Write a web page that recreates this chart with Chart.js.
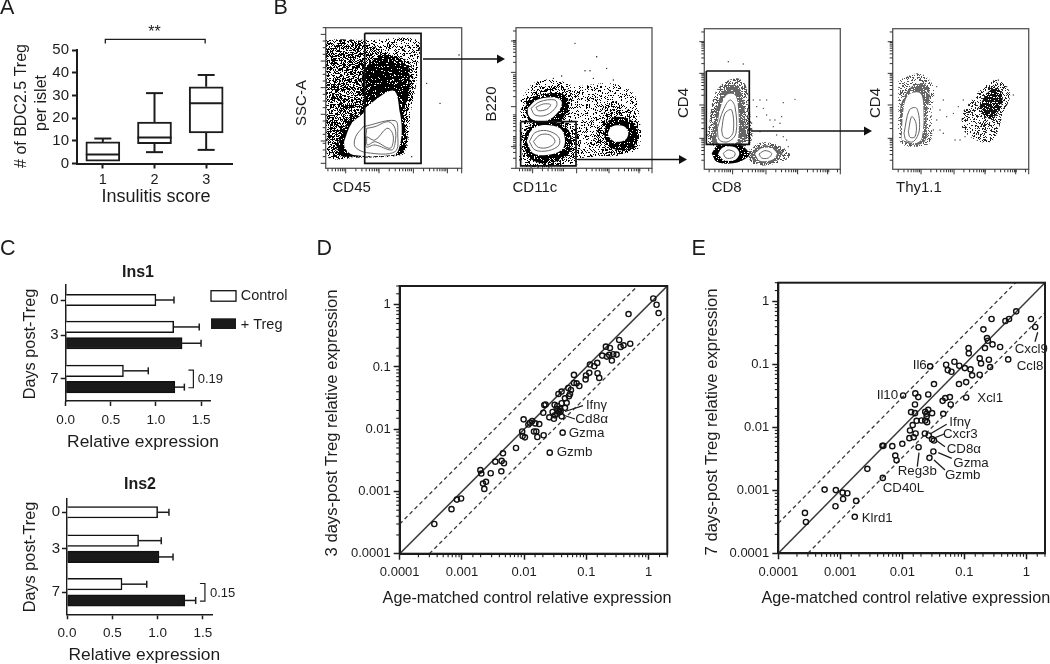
<!DOCTYPE html>
<html><head><meta charset="utf-8">
<style>html,body{margin:0;background:#fff;overflow:hidden}#p{position:relative;width:1050px;height:664px}canvas{position:absolute;left:0;top:0}</style>
<script src="https://cdn.jsdelivr.net/npm/chart.js@4"></script>
</head><body><div id="p"></div>
<script>
// ---------- Panel A ----------
const scoreLabels=['1','2','3'];
const boxMin=[1,5,6], boxQ1=[1,8.7,13.5], boxMedian=[4,11.5,26.5], boxQ3=[9.5,18.3,33.8], boxMax=[11,31,39];
// ---------- Panel C ----------
const dayLabels=['0','3','7'];
const ins1Slots=[0,4,9], ins2Slots=[0,4.15,9.1];
const ins1Control=[1.0,1.197,0.64], ins1ControlHi=[1.2,1.48,0.915];
const ins1Treg=[null,1.29,1.21], ins1TregHi=[null,1.5,1.315];
const ins2Control=[1.0,0.79,0.607], ins2ControlHi=[1.125,1.04,0.88];
const ins2Treg=[null,1.015,1.30], ins2TregHi=[null,1.17,1.42];
// ---------- Panel D ----------
const dX=[0.00036,0.00068,0.00083,0.00097,0.00198,0.00205,0.00218,0.00244,0.00229,0.0029,0.00344,0.0043,0.00435,0.00474,0.00457,0.0074,0.0098,0.0093,0.00946,0.0103,0.0117,0.0124,0.0135,0.0151,0.0175,0.0144,0.0157,0.0163,0.0206,0.0203,0.0211,0.0221,0.0254,0.0301,0.0309,0.0287,0.0341,0.0333,0.0367,0.0377,0.0341,0.0313,0.0354,0.0386,0.0401,0.0482,0.0453,0.0401,0.0416,0.0258,0.0356,0.04,0.0453,0.0525,0.0545,0.0565,0.0513,0.0632,0.0698,0.0771,0.0632,0.0972,0.0986,0.1114,0.1143,0.134,0.1496,0.1514,0.1611,0.18,0.206,0.2138,0.2393,0.2335,0.2704,0.3062,0.257,0.3373,0.3548,0.3963,0.507,0.4764,1.19,1.345,1.449];
const dY=[0.0003,0.00052,0.00074,0.00077,0.0022,0.00194,0.00134,0.00143,0.0011,0.00196,0.00301,0.00211,0.0031,0.00284,0.0041,0.00499,0.0144,0.0092,0.00777,0.0074,0.0119,0.0127,0.0135,0.0124,0.0121,0.0092,0.0092,0.0075,0.008,0.0184,0.0244,0.025,0.0155,0.0147,0.0247,0.0189,0.0236,0.0213,0.0188,0.0213,0.0177,0.0167,0.02,0.0195,0.0262,0.0265,0.0221,0.0161,0.0088,0.0042,0.0369,0.0402,0.0314,0.0339,0.0369,0.0427,0.046,0.0554,0.0546,0.0495,0.0746,0.0631,0.0731,0.0804,0.1094,0.1028,0.1162,0.0794,0.0668,0.1524,0.2123,0.1469,0.2023,0.1563,0.16,0.158,0.1268,0.2716,0.21,0.2225,0.2365,0.708,1.26,1.0,0.735];
// ---------- Panel E ----------
const eX=[0.000269,0.000279,0.000558,0.000847,0.000836,0.00109,0.00111,0.0013,0.0018,0.00171,0.00273,0.00484,0.00478,0.00495,0.00689,0.0077,0.00807,0.01,0.0183,0.013,0.01524,0.0133,0.01637,0.0147,0.017,0.0204,0.0234,0.0251,0.0231,0.0267,0.0302,0.0324,0.0317,0.0274,0.01384,0.016,0.016,0.0162,0.0181,0.0103,0.0262,0.0324,0.0262,0.0247,0.0302,0.0457,0.0447,0.0493,0.0585,0.0603,0.107,0.082,0.107,0.1336,0.177,0.1259,0.102,0.083,0.0692,0.0509,0.0541,0.062,0.0281,0.177,0.186,0.249,0.261,0.51,0.117,0.118,0.215,0.203,0.232,0.24,0.285,0.378,0.275,0.46,0.526,0.687,1.186,1.39,0.0234,0.0247];
const eY=[0.000439,0.000315,0.00103,0.00101,0.00056,0.00092,0.00073,0.0009,0.00068,0.00038,0.0022,0.00158,0.0051,0.0051,0.00505,0.00358,0.00302,0.0055,0.00486,0.00676,0.00701,0.00896,0.00803,0.0109,0.01276,0.0129,0.0129,0.01216,0.00803,0.00746,0.00652,0.00621,0.00415,0.00329,0.01754,0.0169,0.0232,0.0348,0.0304,0.0323,0.0335,0.049,0.0191,0.0165,0.0169,0.0165,0.0265,0.0293,0.0304,0.0232,0.03,0.049,0.0526,0.0673,0.0689,0.0838,0.0879,0.0957,0.1109,0.0993,0.0817,0.0769,0.0935,0.1253,0.1044,0.1194,0.0912,0.1208,0.183,0.1507,0.183,0.363,0.264,0.239,0.209,0.19,0.53,0.492,0.53,0.701,0.53,0.395,0.01775,0.015];
const logBounds=[0.0001,2];
const foldChange=3;
const logLabels=[0.0001,0.001,0.01,0.1,1];
// ---------- Panel B (channels as read, arbitrary units) ----------
const b1Sparse=[[197,118],[330,120],[472,120],[474,200],[464,280],[452,340],[447,400],[442,440],[428,464],[300,472],[200,467],[197,300]];
const b1Medium=[[197,120],[300,122],[380,160],[450,190],[458,270],[445,340],[442,420],[425,462],[230,468],[205,440],[200,300]];
const b1Dense=[[228,445],[262,370],[305,325],[310,215],[375,165],[440,195],[448,265],[432,340],[436,400],[424,458],[270,470],[238,466]];
const b1Hole=[[252,425],[275,370],[310,340],[315,325],[400,272],[420,340],[425,400],[415,450],[400,465],[280,465],[255,445]];
const b1C1=[[310,380],[405,362],[413,400],[405,455],[320,458],[285,440],[287,410]];
const b1C2=[[320,385],[345,380],[385,365],[405,385],[405,430],[395,450],[345,435],[318,440]];
const b1C3=[[320,410],[345,420],[380,385],[395,395],[400,420],[390,445],[345,425],[322,435]];
const b1Gate=[[314,100],[483,100],[483,490],[314,490],[314,100]];
const b1Dots=[[540,310],[597,165],[478,150],[500,250],[455,470]];

const b2Sparse=[[782,300],[820,250],[880,238],[950,258],[1050,250],[1120,280],[1138,350],[1138,440],[1090,465],[960,475],[950,495],[790,500],[780,420]];
const b2HaloTop=[[785,325],[820,272],[880,258],[935,280],[925,345],[880,375],[800,365]];
const b2HaloLow=[[783,420],[800,378],[930,372],[962,425],[950,470],[880,498],[800,495]];
const b2HaloRight=[[1000,420],[1025,360],[1045,305],[1078,310],[1130,365],[1134,430],[1100,458],[1030,460]];
const b2DenseTop=[[795,320],[820,290],[900,280],[925,300],[905,360],[860,372],[810,365]];
const b2DenseLow=[[790,420],[810,380],[880,368],[925,390],[935,440],[910,475],[850,490],[805,470]];
const b2DenseRight=[[1032,400],[1045,362],[1075,350],[1120,365],[1134,400],[1120,440],[1070,450],[1040,430]];
const b2HoleTop=[[803,325],[830,300],[880,292],[905,305],[895,335],[860,362],[820,360],[805,345]];
const b2HoleLow=[[800,425],[815,390],[850,375],[900,385],[915,420],[905,450],[860,465],[820,460]];
const b2HoleRight=[[1043,400],[1055,380],[1090,378],[1105,398],[1095,420],[1065,425],[1048,412]];
const b2TopC1=[[813,325],[840,305],[885,300],[890,318],[860,345],[825,345]];
const b2TopC2=[[828,322],[850,312],[872,314],[860,328],[835,332]];
const b2LowC1=[[808,425],[825,398],[860,392],[895,410],[897,435],[865,452],[825,450]];
const b2LowC2=[[820,425],[840,405],[870,405],[885,425],[865,442],[835,442]];
const b2Gate=[[782,365],[948,365],[948,498],[782,498],[782,365]];
const b2Dots=[[945,130],[1010,170],[975,212],[990,212],[1040,205],[880,235],[905,228],[1000,235],[1060,240]];

const b3Cloud=[[150,350],[163,285],[190,250],[232,235],[258,258],[270,330],[268,432],[148,432]];
const b3Ring=[[156,405],[170,320],[192,268],[230,255],[248,290],[255,350],[250,428],[160,430]];
const b3Hole=[[170,400],[180,330],[200,285],[225,285],[235,330],[235,410],[225,430],[175,430]];
const b3C1=[[172,385],[190,330],[210,300],[225,320],[228,400],[205,425],[178,420]];
const b3C2=[[185,390],[195,340],[215,330],[220,395],[205,415],[190,410]];
const b3RingLow=[[155,460],[175,435],[240,435],[265,455],[265,470],[220,490],[170,485]];
const b3HoleLow=[[175,460],[190,442],[225,442],[238,460],[225,480],[190,480]];
const b3C3=[[190,460],[205,450],[225,458],[220,472],[198,474]];
const b3CloudRight=[[262,455],[290,432],[330,428],[378,448],[390,470],[340,493],[278,492]];
const b3RingRight=[[272,462],[295,440],[335,438],[365,455],[365,472],[335,488],[285,488]];
const b3HoleRight=[[285,462],[305,445],[335,445],[350,462],[335,480],[300,482]];
const b3C4=[[297,462],[315,452],[335,460],[325,474],[305,474]];
const b3Gate=[[139,213],[268,213],[268,433],[139,433],[139,213]];
const b3Dots=[[205,185],[250,192],[300,300],[320,300],[405,298],[370,308],[345,360],[365,350],[290,320],[275,370],[300,395],[350,405],[370,410],[380,420],[320,345],[340,380],[280,300],[385,440],[360,370],[310,325],[330,360],[290,350]];

const b4Sparse=[[715,240],[780,220],[820,260],[815,340],[812,425],[770,440],[722,428],[715,330]];
const b4Cloud=[[725,425],[720,330],[732,290],[757,258],[790,250],[808,275],[800,350],[797,420],[770,435]];
const b4Hole=[[725,420],[730,330],[745,285],[780,280],[790,320],[785,415],[765,430]];
const b4C1=[[732,400],[748,330],[770,325],[778,390],[760,425],[738,420]];
const b4C2=[[745,395],[755,350],[768,370],[765,410],[750,412]];
const b4RightSparse=[[905,340],[960,270],[1010,240],[1050,280],[1030,340],[1000,420],[960,425],[910,390]];
const b4RightDense=[[955,325],[985,275],[1015,265],[1028,300],[1000,355],[975,350]];
const b4Dots=[[830,260],[850,300],[840,330],[830,360],[860,350],[820,390],[840,390],[850,400],[885,420],[895,320],[910,300],[900,420],[880,340],[1060,285],[1040,260],[1015,240],[915,410]];

const INK='#1c1c1c', FONT='"Liberation Sans", Arial, sans-serif';
const host=document.getElementById('p');
function mk(cfg){const c=document.createElement('canvas');c.width=1050;c.height=664;host.appendChild(c);
  cfg.options=Object.assign({responsive:false,animation:false,events:[]},cfg.options);
  cfg.options.plugins=Object.assign({legend:{display:false},tooltip:{enabled:false},title:{display:false}},cfg.options.plugins);
  return new Chart(c,cfg);}
function frame(L,T,R,B,w=0,h=0){return {autoPadding:false,padding:{left:L-w,top:T,right:1050-R,bottom:664-B-h}};}
function txt(g,t,x,y,size,o={}){g.save();g.fillStyle=INK;g.font=(o.w||'')+' '+size+'px '+FONT;g.textBaseline='middle';g.textAlign=o.a||'left';g.translate(x,y);if(o.r)g.rotate(-Math.PI/2);g.fillText(t,0,0);g.restore();}
function seg(g,x1,y1,x2,y2,lw,col){g.save();g.strokeStyle=col||INK;g.lineWidth=lw||1.5;g.beginPath();g.moveTo(x1,y1);g.lineTo(x2,y2);g.stroke();g.restore();}
function arrow(g,x1,x2,y){seg(g,x1,y,x2-7,y,1.6,'#111');g.save();g.fillStyle='#111';g.beginPath();g.moveTo(x2,y);g.lineTo(x2-8,y-4.5);g.lineTo(x2-8,y+4.5);g.closePath();g.fill();g.restore();}
const fitW=w=>s=>{s.width=w};
const fitH=h=>s=>{s.height=h};

// ---------- A ----------
mk({type:'bar',data:{labels:scoreLabels,datasets:[{data:boxQ1.map((q,i)=>[q,boxQ3[i]]),backgroundColor:'#fff',borderColor:INK,borderWidth:2,borderSkipped:false,barThickness:34}]},
 options:{layout:frame(77,50,232,163.5,40,26),scales:{
  x:{afterFit:fitH(26),grid:{drawOnChartArea:false,tickLength:5,tickWidth:2,tickColor:INK,offset:false},border:{color:INK,width:2},ticks:{color:INK,font:{family:FONT,size:14.5},padding:3,maxRotation:0}},
  y:{min:0,max:50,afterFit:fitW(40),grid:{drawOnChartArea:false,tickLength:5,tickWidth:2,tickColor:INK},border:{color:INK,width:2},ticks:{stepSize:10,color:INK,font:{family:FONT,size:15},padding:3}}}},
 plugins:[{id:'a',afterDatasetsDraw(ch){const g=ch.ctx,X=ch.scales.x,Y=ch.scales.y;
   scoreLabels.forEach((_,i)=>{const x=X.getPixelForValue(i),hw=17,cw=8.5;
    seg(g,x-hw,Y.getPixelForValue(boxMedian[i]),x+hw,Y.getPixelForValue(boxMedian[i]),2);
    [[boxQ3[i],boxMax[i]],[boxQ1[i],boxMin[i]]].forEach(([a,b])=>{if(a===b)return;
      seg(g,x,Y.getPixelForValue(a),x,Y.getPixelForValue(b),2);seg(g,x-cw,Y.getPixelForValue(b),x+cw,Y.getPixelForValue(b),2);});});
   const xa=X.getPixelForValue(0)+2.5,xb=X.getPixelForValue(2)-1,yt=Y.getPixelForValue(54.7),yb=Y.getPixelForValue(52.9);
   g.save();g.strokeStyle=INK;g.lineWidth=1.3;g.beginPath();g.moveTo(xa,yb);g.lineTo(xa,yt);g.lineTo(xb,yt);g.lineTo(xb,yb);g.stroke();g.restore();
   txt(g,'**',154.5,33,16,{a:'center'});
   txt(g,'# of BDC2.5 Treg',22,106,16,{a:'center',r:1});
   txt(g,'per islet',41.5,103,16,{a:'center',r:1});
   txt(g,'Insulitis score',156,197,18,{a:'center'});
   txt(g,'A',0,8.5,21.5);txt(g,'B',273.5,8.5,21.5);txt(g,'C',0,249,21.5);txt(g,'D',316.5,249,21.5);txt(g,'E',691.5,249,21.5);
 }}]});

// ---------- B ----------
function speckle(density,color){const c=document.createElement('canvas');c.width=c.height=256;const g=c.getContext('2d');g.fillStyle=color;
 for(let y=0;y<256;y++)for(let x=0;x<256;x++){let h=(Math.imul(x+1,73856093)^Math.imul(y+1,19349663))>>>0;h=Math.imul(h^(h>>>15),2246822519)>>>0;h=Math.imul(h^(h>>>13),3266489917)>>>0;h=(h^(h>>>16))>>>0;if(h%1000<density*1000)g.fillRect(x,y,1,1);}
 return g.createPattern(c,'repeat');}
const K={s:speckle(.3,'#000'),ls:speckle(.2,'#000'),lm:speckle(.42,'#000'),m:speckle(.55,'#000'),d:speckle(.9,'#000'),gs:speckle(.3,'#555'),gm:speckle(.45,'#555'),gd:speckle(.85,'#666'),ks:speckle(.3,'#222'),kd:speckle(.8,'#111')};
function shape(pts,fill,line,lw,tension){const d=pts.concat([pts[0]]).map(p=>({x:p[0],y:p[1]}));
 return {data:d,showLine:true,pointRadius:0,fill:fill?'shape':false,backgroundColor:fill||'transparent',borderColor:line||'transparent',borderWidth:lw||0,tension:tension===undefined?0.35:tension,borderJoinStyle:'miter'};}
const cont=p=>shape(p,null,'#666',1);
const gate=p=>shape(p.slice(0,4),null,'#111',1.7,0);
const dots=(p,col)=>({data:p.map(q=>({x:q[0],y:q[1]})),pointRadius:.7,pointBackgroundColor:col,pointBorderWidth:0,showLine:false});
function flow(box,sets,xM,yM,xDec,yDec,linY,extra){const [L,T,R,B,x0,x1,y0,y1]=box;
 sets.forEach((s,i)=>s.order=-i);
 mk({type:'scatter',data:{datasets:sets},options:{layout:frame(L,T,R,B),scales:{x:{type:'linear',display:false,min:x0,max:x1},y:{type:'linear',display:false,min:y0,max:y1,reverse:true}}},
 plugins:[{id:'f',afterDraw(ch){const g=ch.ctx,X=ch.scales.x,Y=ch.scales.y,A=ch.chartArea;
  g.save();g.strokeStyle='#555';g.lineWidth=1.3;g.strokeRect(A.left,A.top,A.right-A.left,A.bottom-A.top);g.restore();
  const tx=(v,l)=>{if(v<x0||v>x1)return;const p=X.getPixelForValue(v);seg(g,p,A.bottom,p,A.bottom+l,1,'#333');};
  const ty=(v,l)=>{if(v<y0||v>y1)return;const p=Y.getPixelForValue(v);seg(g,A.left-l,p,A.left,p,1,'#333');};
  xM.forEach(m=>{tx(m,5);for(let k=2;k<10;k++)tx(m+xDec*Math.log10(k),3);});tx(x1,5);
  yM.forEach((m,i)=>{ty(m,5);if(linY){for(let k=1;k<4;k++)ty(m-(yDec/4)*k,3);}else for(let k=2;k<10;k++)ty(m-yDec*Math.log10(k),3);});
  extra(g);
 }}]});}
flow([325.7,27.7,461.7,168.3,197,605,83,505],[
 shape(b1Sparse,K.s),shape(b1Medium,K.m),shape(b1Dense,K.d),shape(b1Hole,'#fff'),cont(b1C1),cont(b1C2),cont(b1C3),gate(b1Gate),dots(b1Dots,'#111')],
 [155,257,357,460,562],[490,423,343,263,183,103],102,80,true,g=>{
  arrow(g,423,505,59);txt(g,'SSC-A',302,103,15,{a:'center',r:1});txt(g,'CD45',332.5,188,15);});
flow([516,27.7,652,168.3,768,1176,83,505],[
 shape(b2Sparse,K.ls),shape(b2HaloTop,K.lm),shape(b2HaloLow,K.lm),shape(b2HaloRight,K.lm),shape(b2DenseTop,K.d),shape(b2DenseLow,K.d),shape(b2DenseRight,K.d),shape(b2HoleTop,'#fff'),shape(b2HoleLow,'#fff'),shape(b2HoleRight,'#fff'),cont(b2TopC1),cont(b2TopC2),cont(b2LowC1),cont(b2LowC2),gate(b2Gate),dots(b2Dots,'#111')],
 [720,818,950,1047,1137],[505,440,320,217,123],97,100,false,g=>{
  arrow(g,578,687,159.5);txt(g,'B220',492,104,15,{a:'center',r:1});txt(g,'CD11c',512.5,188,15);});
flow([704.3,28.7,840.3,169.3,133,541,86,508],[
 shape(b3Cloud,K.gm),shape(b3Ring,K.gd),shape(b3Hole,'#fff'),cont(b3C1),cont(b3C2),shape(b3CloudRight,K.gm),shape(b3RingRight,K.gd),shape(b3RingLow,K.d),shape(b3HoleLow,'#fff'),cont(b3C3),shape(b3HoleRight,'#fff'),cont(b3C4),gate(b3Gate),dots(b3Dots,'#444')],
 [118,218,318,413,503],[510,415,315,220,125],98,97,false,g=>{
  arrow(g,751,872,131);txt(g,'CD4',684,103,15,{a:'center',r:1});txt(g,'CD8',711.7,188,15);});
flow([892.7,28.7,1028.7,169.3,698,1106,86,508],[
 shape(b4Sparse,K.gs),shape(b4Cloud,K.gd),shape(b4Hole,'#fff'),cont(b4C1),cont(b4C2),shape(b4RightSparse,K.ks),shape(b4RightDense,K.kd),dots(b4Dots,'#444')],
 [685,783,882,975,1067],[510,415,315,220,125],98,97,false,g=>{
  txt(g,'CD4',876,103,15,{a:'center',r:1});txt(g,'Thy1.1',896,188,15);});

// ---------- C ----------
function ins(area,slots,ctrl,ctrlHi,treg,tregHi,yMin,yMax,xMax,brX,extra){
 const rows=a=>a.map((v,i)=>({x:v,y:slots[i]}));
 const ds=(a,bg)=>({data:rows(a),backgroundColor:bg,borderColor:'#111',borderWidth:1.5,skipNull:true,barThickness:16.3,maxBarThickness:11.5});
 mk({type:'bar',data:{datasets:[ds(ctrl,'#fff'),ds(treg,'#1a1a1a')]},options:{indexAxis:'y',layout:frame(...area,30,28),scales:{
  x:{type:'linear',min:0,max:xMax,afterFit:fitH(28),grid:{drawOnChartArea:false,tickLength:5,tickWidth:1.5,tickColor:INK,offset:false},border:{color:INK,width:1.5},ticks:{stepSize:.5,includeBounds:false,color:INK,font:{family:FONT,size:13.5},padding:6,callback:v=>v.toFixed(1)}},
  y:{type:'linear',offset:false,reverse:true,min:yMin,max:yMax,afterFit:fitW(30),afterBuildTicks:s=>{s.ticks=slots.map(v=>({value:v}));},grid:{drawOnChartArea:false,tickLength:5,tickWidth:1.5,tickColor:INK,offset:false},border:{color:INK,width:1.5},ticks:{autoSkip:false,color:INK,font:{family:FONT,size:15},padding:2,callback:(v,i)=>dayLabels[i]}}}},
 plugins:[{id:'c',afterDatasetsDraw(ch){const g=ch.ctx,X=ch.scales.x;
  [[0,ctrl,ctrlHi],[1,treg,tregHi]].forEach(([di,v,h])=>{const m=ch.getDatasetMeta(di);v.forEach((val,i)=>{if(val===null)return;const y=m.data[i].y,a=X.getPixelForValue(val),b=X.getPixelForValue(h[i]);
    seg(g,a,y,b,y,1.5);seg(g,b,y-3.5,b,y+3.5,1.5);});});
  const Y=ch.scales.y,s=slots[2],xa=X.getPixelForValue(brX[0]),xb=X.getPixelForValue(brX[1]),y1=Y.getPixelForValue(s-1),y2=Y.getPixelForValue(s+1);
  g.save();g.strokeStyle=INK;g.lineWidth=1.2;g.beginPath();g.moveTo(xa,y1);g.lineTo(xb,y1);g.lineTo(xb,y2);g.lineTo(xa,y2);g.stroke();g.restore();
  extra(g);
 }}]});}
ins([65.7,285,210.7,401],ins1Slots,ins1Control,ins1ControlHi,ins1Treg,ins1TregHi,-1.71,11.51,1.607,[1.36,1.415],g=>{
 txt(g,'Ins1',138,273,16,{a:'center',w:'bold'});
 txt(g,'Days post-Treg',31,344,16.3,{a:'center',r:1});
 txt(g,'Relative expression',143,442,17.4,{a:'center'});
 txt(g,'0.19',197.7,379.5,13);
 g.save();g.strokeStyle='#111';g.lineWidth=1.3;g.fillStyle='#fff';g.fillRect(211,290.7,25,10.5);g.strokeRect(211,290.7,25,10.5);g.fillStyle='#1a1a1a';g.fillRect(211,318.3,25,10.7);g.restore();
 txt(g,'Control',240.7,296,14.5);txt(g,'+ Treg',240.7,324.5,14.5);
});
ins([67,498.3,212,614.3],ins2Slots,ins2Control,ins2ControlHi,ins2Treg,ins2TregHi,-1.59,11.6,1.6,[1.467,1.522],g=>{
 txt(g,'Ins2',140,485,16,{a:'center',w:'bold'});
 txt(g,'Days post-Treg',30.7,557,16.3,{a:'center',r:1});
 txt(g,'Relative expression',144.3,655,17.4,{a:'center'});
 txt(g,'0.15',210,593.5,13);
});

// ---------- D, E ----------
const isDecade=v=>logLabels.some(l=>Math.abs(l/v-1)<1e-6);
function scatterPanel(area,xs,ys,extra){
 const [lo,hi]=logBounds;
 const lineSet=(pts,dash)=>({data:pts,showLine:true,pointRadius:0,borderColor:'#3a3a3a',borderWidth:dash?1.3:1.6,borderDash:dash?[4,3]:[],tension:0,fill:false});
 const axis=(sz,pad)=>({type:'logarithmic',min:lo,max:hi,grid:{drawOnChartArea:false,tickLength:6,tickWidth:1.5,tickColor:c=>isDecade(c.tick.value)?INK:'transparent'},border:{color:INK,width:2},ticks:{autoSkip:false,maxRotation:0,color:INK,font:{family:FONT,size:sz},padding:pad,callback:v=>isDecade(v)?String(+v):''}});
 const sx=axis(13,5),sy=axis(13,3);sx.afterFit=fitH(30);sy.afterFit=fitW(60);
 mk({type:'scatter',data:{datasets:[
  {data:xs.map((x,i)=>({x,y:ys[i]})),pointRadius:2.6,pointBorderWidth:1.4,pointBorderColor:'#111',pointBackgroundColor:'transparent',showLine:false},
  lineSet([{x:lo,y:lo},{x:hi,y:hi}],false),
  lineSet([{x:lo,y:lo*foldChange},{x:hi/foldChange,y:hi}],true),
  lineSet([{x:lo*foldChange,y:lo},{x:hi,y:hi/foldChange}],true)]},
 options:{layout:frame(...area,60,30),scales:{x:sx,y:sy}},
 plugins:[{id:'s',afterDraw(ch){const g=ch.ctx,A=ch.chartArea,X=ch.scales.x,Y=ch.scales.y;
  g.save();g.strokeStyle=INK;g.lineWidth=2;g.strokeRect(A.left,A.top,A.right-A.left,A.bottom-A.top);g.restore();
  X.ticks.forEach(t=>{if(!isDecade(t.value)){const p=X.getPixelForValue(t.value);seg(g,p,A.bottom,p,A.bottom+3.5,1.1);}});
  Y.ticks.forEach(t=>{if(!isDecade(t.value)){const p=Y.getPixelForValue(t.value);seg(g,A.left-3.5,p,A.left,p,1.1);}});
  extra(g);
 }}]});}
scatterPanel([399.7,286,667.3,553.7],dX,dY,g=>{
 txt(g,'3 days-post Treg relative expression',332.7,423,16.6,{a:'center',r:1});
 txt(g,'Age-matched control relative expression',527,599,16.2,{a:'center'});
 seg(g,565,411.5,583,405.7,1.3);seg(g,563,415,575,419,1.3);
 txt(g,'Ifnγ',586,405.7,13);txt(g,'Cd8α',575.3,419.5,13.6);txt(g,'Gzma',568.7,433.5,13.4);txt(g,'Gzmb',556.7,452.5,13.4);
});
scatterPanel([778.3,282.7,1048.3,553.3],eX,eY,g=>{
 txt(g,'7 days-post Treg relative expression',712.3,422,16.6,{a:'center',r:1});
 txt(g,'Age-matched control relative expression',905.8,599,16.2,{a:'center'});
 const lead=[[1037.7,332.3,1035,341.7],[930,434,946.7,424.3],[933.3,438.3,944.3,434],[936.7,440.7,945,446.7],[938.3,452.7,951.7,458.3],[934,460,945,470],[919,452.7,917.3,466.7]];
 lead.forEach(l=>seg(g,l[0],l[1],l[2],l[3],1.3));
 [['Il6',912.7,365.7],['Il10',876.7,395],['Xcl1',977.3,398.3],['Cxcl9',1014.7,349],['Ccl8',1016.7,366.5],['Ifnγ',949.3,422.3],['Cxcr3',943,434.3],['CD8α',946.7,449.5],['Gzma',953.3,463],['Gzmb',945,475.3],['Reg3b',897.7,471.7],['CD40L',882.7,488],['Klrd1',861.7,518.5]].forEach(t=>txt(g,t[0],t[1],t[2],13.3));
});
</script></body></html>
